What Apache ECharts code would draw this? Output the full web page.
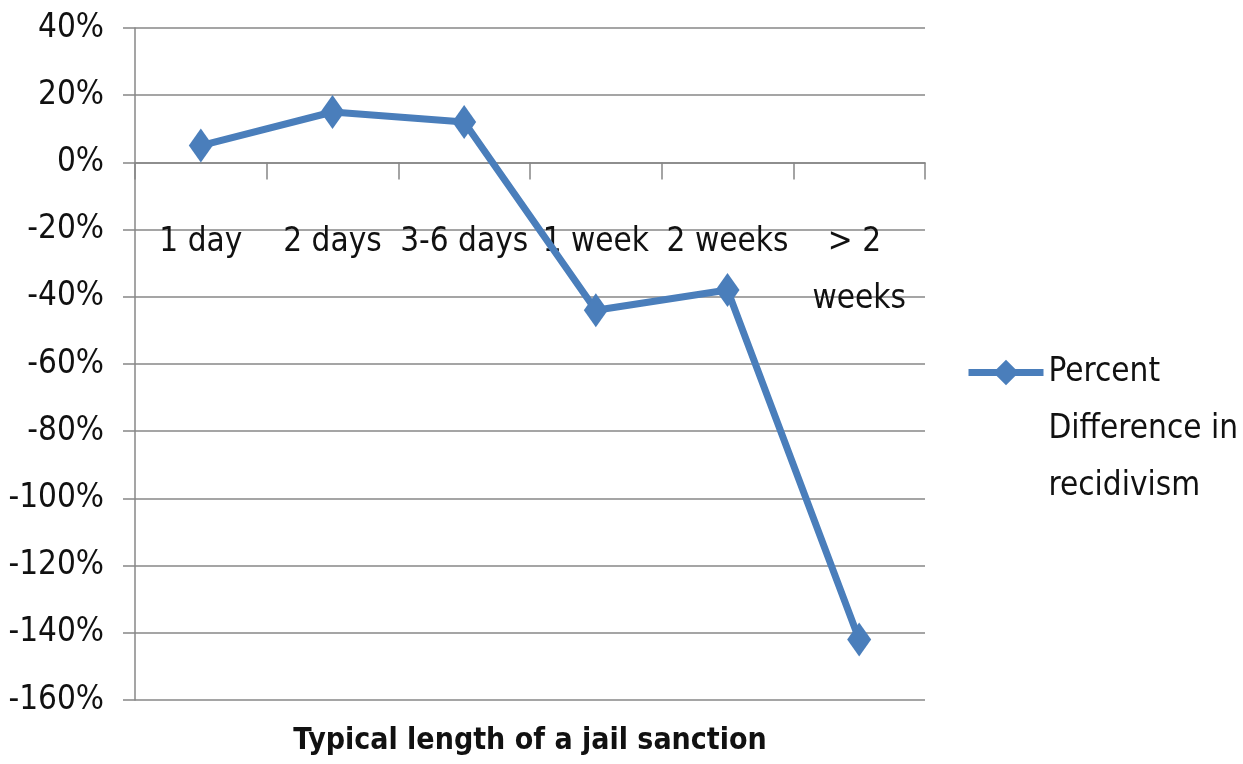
<!DOCTYPE html>
<html>
<head>
<meta charset="utf-8">
<script src="https://cdn.jsdelivr.net/npm/echarts@6/dist/echarts.min.js"></script>
<style>
html,body{margin:0;padding:0;background:#fff;}
#chart{width:1243px;height:764px;}
</style>
</head>
<body>
<div id="chart"></div>
<script>
const categories = ['1 day', '2 days', '3-6 days', '1 week', '2 weeks', '> 2 weeks'];
const percentDiff = [5, 15, 12, -44, -38, -142];
const seriesName = 'Percent\nDifference in\nrecidivism';
const axisTitle = 'Typical length of a jail sanction';
const yMin = -160, yMax = 40, yStep = 20;

const FONT = '"Liberation Sans Narrow", "DejaVu Sans Condensed", "Liberation Sans", sans-serif';
const FS = 33;
const chart = echarts.init(document.getElementById('chart'));
chart.setOption({
  backgroundColor: '#fff',
  animation: false,
  textStyle: { fontFamily: FONT },
  grid: { left: 135, right: 318, top: 28, bottom: 64, containLabel: false, outerBoundsMode: 'none' },
  legend: {
    left: 965,
    top: 230,
    padding: 0,
    itemWidth: 75,
    itemHeight: 32,
    data: [seriesName],
    formatter: function (name) { return '\n\n' + name; },
    lineStyle: { width: 7, color: '#4A7EBB' },
    itemStyle: { color: '#4A7EBB' },
    textStyle: { fontFamily: FONT, fontSize: FS, lineHeight: 57, color: '#111' }
  },
  xAxis: {
    type: 'category',
    data: categories,
    boundaryGap: true,
    name: axisTitle,
    nameLocation: 'middle',
    nameGap: 26,
    nameTextStyle: { fontFamily: FONT, fontSize: 30, fontWeight: 'bold', color: '#111' },
    axisLine: { onZero: true, lineStyle: { color: '#878787', width: 1.5 } },
    axisTick: { show: true, length: 17, inside: false, alignWithLabel: false, lineStyle: { color: '#878787', width: 1.5 } },
    axisLabel: {
      interval: 0, margin: -486, fontFamily: FONT, fontSize: FS, lineHeight: 57, color: '#111',
      width: 134, overflow: 'break', hideOverlap: false
    }
  },
  yAxis: {
    type: 'value',
    min: yMin, max: yMax, interval: yStep,
    axisLine: { show: true, lineStyle: { color: '#878787', width: 1.5 } },
    axisTick: { show: true, length: 12, lineStyle: { color: '#878787', width: 1.5 } },
    splitLine: { show: true, lineStyle: { color: '#878787', width: 1.5 } },
    axisLabel: { formatter: '{value}%', margin: 31, fontFamily: FONT, fontSize: FS, color: '#111' }
  },
  series: [{
    name: seriesName,
    type: 'line',
    data: percentDiff,
    symbol: 'diamond',
    symbolSize: [24, 34],
    z: 3,
    lineStyle: { color: '#4A7EBB', width: 7 },
    itemStyle: { color: '#4A7EBB', borderWidth: 0 }
  }]
});
</script>
</body>
</html>
